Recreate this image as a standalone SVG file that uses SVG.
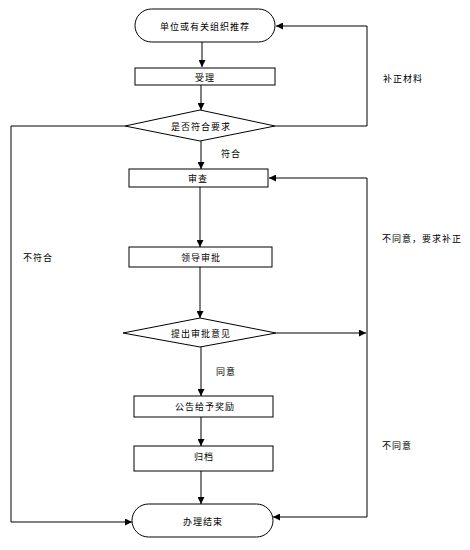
<svg xmlns="http://www.w3.org/2000/svg" width="470" height="550" viewBox="0 0 470 550">
<style>
.s{fill:#fff;stroke:#000;stroke-width:1}
.t{font-family:"Noto Sans CJK SC","Noto Sans",sans-serif;font-size:9px;letter-spacing:1px;fill:#000;text-anchor:middle;dominant-baseline:central}
.c{fill:none;stroke:#000;stroke-width:1}
</style>
<defs>
<marker id="a" viewBox="0 0 8 8" refX="8" refY="4" markerWidth="7" markerHeight="7" orient="auto" markerUnits="userSpaceOnUse"><path d="M0,0L8,4L0,8z" fill="#000"/></marker>
</defs>
<rect width="470" height="550" fill="#fff"/>
<g id="connectors">
<path class="c" d="M202,42V67" marker-end="url(#a)"/>
<path class="c" d="M201,85V110" marker-end="url(#a)"/>
<path class="c" d="M201,141V169" marker-end="url(#a)"/>
<path class="c" d="M275,126H367V26H276" marker-end="url(#a)"/>
<path class="c" d="M125,126H11V522H132" marker-end="url(#a)"/>
<path class="c" d="M200,187V247" marker-end="url(#a)"/>
<path class="c" d="M200,267V318" marker-end="url(#a)"/>
<path class="c" d="M276,333H366" marker-end="url(#a)"/>
<path class="c" d="M367,178H269" marker-end="url(#a)"/>
<path class="c" d="M367,178V517H273" marker-end="url(#a)"/>
<path class="c" d="M201,347V396" marker-end="url(#a)"/>
<path class="c" d="M201,417V446" marker-end="url(#a)"/>
<path class="c" d="M201,471V504" marker-end="url(#a)"/>
<text class="t" x="403" y="78">补正材料</text>
<text class="t" x="231" y="153">符合</text>
<text class="t" x="38" y="257">不符合</text>
<text class="t" x="422" y="238">不同意，要求补正</text>
<text class="t" x="226" y="371">同意</text>
<text class="t" x="397" y="445">不同意</text>
</g>
<g id="n1"><rect class="s" x="135" y="9" width="140" height="33" rx="16.5"/><text class="t" x="205" y="26">单位或有关组织推荐</text></g>
<g id="n2"><rect class="s" x="135" y="68" width="140" height="17"/><text class="t" x="205" y="77">受理</text></g>
<g id="n3"><path class="s" d="M125,126L200,110L275,126L200,141Z"/><text class="t" x="201" y="126">是否符合要求</text></g>
<g id="n4"><rect class="s" x="129" y="169" width="139" height="18"/><text class="t" x="198" y="178">审查</text></g>
<g id="n5"><rect class="s" x="129" y="247" width="143" height="20"/><text class="t" x="201" y="257">领导审批</text></g>
<g id="n6"><path class="s" d="M123,333L200,318L276,333L200,347Z"/><text class="t" x="201" y="333">提出审批意见</text></g>
<g id="n7"><rect class="s" x="134" y="396" width="139" height="21"/><text class="t" x="205" y="406">公告给予奖励</text></g>
<g id="n8"><rect class="s" x="134" y="446" width="139" height="25"/><text class="t" x="204" y="456">归档</text></g>
<g id="n9"><rect class="s" x="132" y="504" width="141" height="33" rx="16.5"/><text class="t" x="203" y="521">办理结束</text></g>
</svg>
